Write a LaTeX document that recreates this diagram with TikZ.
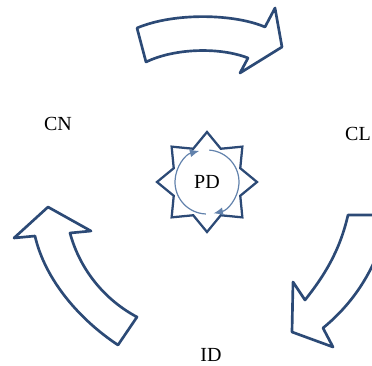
\documentclass[tikz,border=0pt]{standalone}
\usepackage{fontspec}
\setmainfont{Liberation Serif}
\usetikzlibrary{arrows.meta}
\definecolor{navy}{HTML}{2C4A76}
\definecolor{ringblue}{HTML}{6282AC}
\tikzset{
  bigarrow/.style={draw=navy, line width=2pt, fill=white, line join=round},
  starline/.style={draw=navy, line width=1.7pt, line join=miter},
  ring/.style={draw=ringblue, line width=0.9pt, -{Latex[length=7pt,width=6pt]}},
  lbl/.style={font=\fontsize{15}{17}\selectfont, text=black, inner sep=0pt}
}
\begin{document}
\begin{tikzpicture}[x=0.75pt, y=-0.75pt]
  \useasboundingbox (0,0) rectangle (372,365);
  \clip (0,0) rectangle (372,365);

  % upper curved arrow, pointing right
  \draw[bigarrow] (137,28) .. controls (175,12) and (235,14) .. (265,27)
    -- (275,8) -- (282,47) -- (240,73) -- (248,58)
    .. controls (220,47) and (175,48) .. (146,62) -- cycle;

  % right curved arrow, pointing down-left (runs off the right edge)
  \draw[bigarrow] (348,215) .. controls (340,250) and (325,275) .. (305,300)
    -- (293,282) -- (292,332) -- (333,347) -- (323,328)
    .. controls (345,310) and (366,285) .. (380,248) -- (386,215) -- cycle;

  % left curved arrow, pointing up
  \draw[bigarrow] (48,207) -- (91,231) -- (70,233)
    .. controls (80,270) and (105,300) .. (137,317)
    -- (118,345)
    .. controls (80,320) and (45,280) .. (35,236)
    -- (14,238) -- cycle;

  % eight-pointed star with the cycle ring
  \begin{scope}[shift={(207,182)}]
    \draw[starline] (-90:50)
      \foreach \k in {0,...,7} { -- ({-67.5+\k*45}:36) -- ({-45+\k*45}:50) } -- cycle;
    \draw[ring] (92:32) arc[start angle=92, end angle=256, radius=32];
    \draw[ring] (-86:32) arc[start angle=-86, end angle=78, radius=32];
    \node[lbl] (pd) at (0,0) {PD};
  \end{scope}

  % labels
  \node[lbl] (cn) at (58,124) {CN};
  \node[lbl] (cl) at (358,134) {CL};
  \node[lbl] (id) at (211,355) {ID};
\end{tikzpicture}
\end{document}
